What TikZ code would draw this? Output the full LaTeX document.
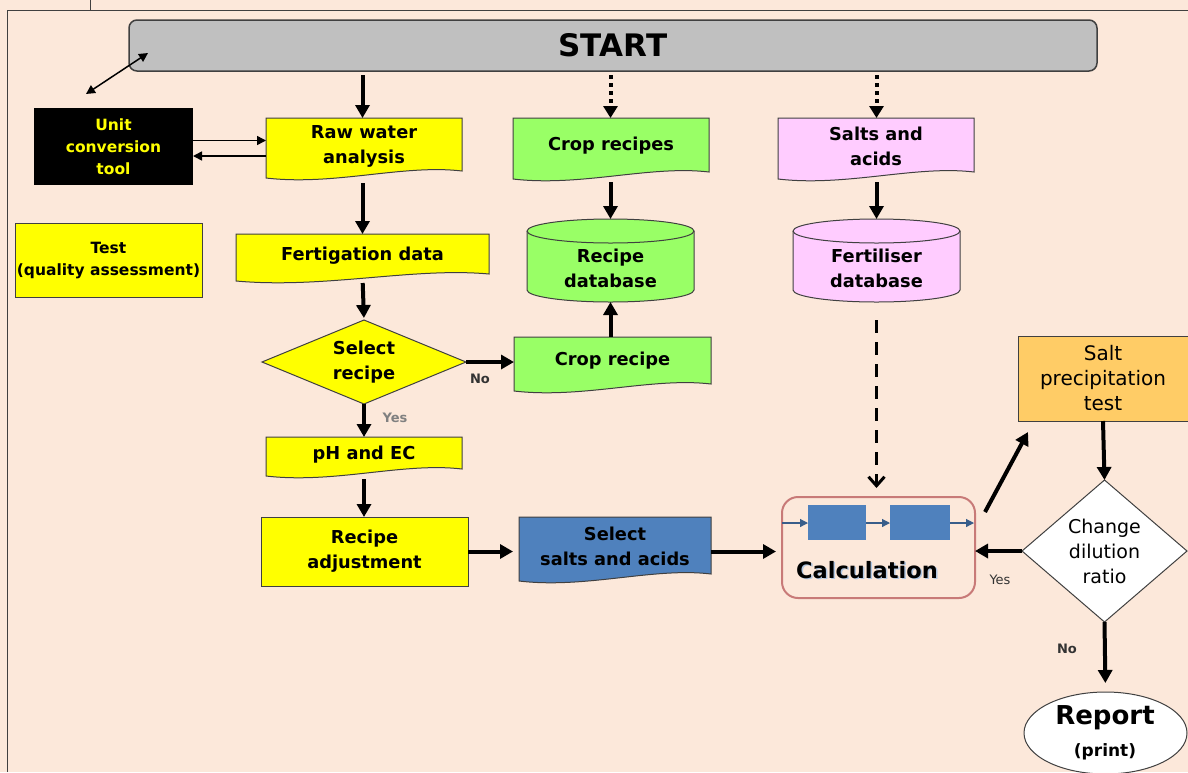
\documentclass[tikz,border=0pt]{standalone}
\usepackage{fontspec}
\setmainfont{DejaVu Sans}
\usetikzlibrary{arrows.meta,calc}
\definecolor{bgc}{HTML}{FCE8DA}
\definecolor{yel}{HTML}{FFFF00}
\definecolor{grn}{HTML}{99FF66}
\definecolor{pnk}{HTML}{FFCCFF}
\definecolor{blu}{HTML}{4F81BD}
\definecolor{org}{HTML}{FFCC66}
\definecolor{gry}{HTML}{C0C0C0}
\definecolor{calcb}{HTML}{C87A78}
\definecolor{smallb}{HTML}{385D8A}
\definecolor{edge}{HTML}{404040}

\newcommand{\docshape}[5]{%
  \pgfmathsetmacro\dw{#3-#1}
  \filldraw[fill=#5, draw=edge, line width=1pt] (#1,#2) -- (#3,#2) -- (#3,{#4-9})
    .. controls ({#3-0.3*\dw},{#4-16}) and ({#1+0.35*\dw},{#4+6}) .. (#1,{#4-2}) -- cycle;}

\newcommand{\cylshape}[5]{%
  \pgfmathsetmacro\ccx{(#1+#3)/2}
  \pgfmathsetmacro\crx{(#3-#1)/2}
  \pgfmathsetmacro\cyt{#2+12}
  \pgfmathsetmacro\cyb{#4-12}
  \pgfmathsetmacro\ckx{0.5523*\crx}
  \pgfmathsetmacro\cky{0.5523*12}
  \filldraw[fill=#5, draw=edge, line width=1pt] (#1,\cyt) -- (#1,\cyb)
    .. controls (#1,{\cyb+\cky}) and ({\ccx-\ckx},#4) .. (\ccx,#4)
    .. controls ({\ccx+\ckx},#4) and (#3,{\cyb+\cky}) .. (#3,\cyb)
    -- (#3,\cyt)
    .. controls (#3,{\cyt-\cky}) and ({\ccx+\ckx},#2) .. (\ccx,#2)
    .. controls ({\ccx-\ckx},#2) and (#1,{\cyt-\cky}) .. (#1,\cyt) -- cycle;
  \draw[draw=edge, line width=1pt] (#1,\cyt)
    .. controls (#1,{\cyt+\cky}) and ({\ccx-\ckx},{\cyt+12}) .. (\ccx,{\cyt+12})
    .. controls ({\ccx+\ckx},{\cyt+12}) and (#3,{\cyt+\cky}) .. (#3,\cyt);}

\tikzset{
  lbl/.style={font=\fontsize{17.8}{25}\selectfont\bfseries, align=center, inner sep=0pt},
  lblr/.style={font=\fontsize{20}{25}\selectfont, align=center, inner sep=0pt},
  anch/.style={inner sep=0pt, outer sep=0pt, draw=none},
  arr/.style={line width=4pt, -{Triangle[length=13pt,width=14pt]}},
  dotarr/.style={line width=4pt, dash pattern=on 4pt off 4pt, -{Triangle[length=12pt,width=14pt]}},
  dasharr/.style={line width=3pt, dash pattern=on 13pt off 9pt, -{Straight Barb[length=9pt,width=16pt,line width=3pt]}},
  thinarr/.style={line width=1.5pt, -{Triangle[length=9pt,width=9pt]}},
  minarr/.style={line width=1.2pt, draw=smallb, -{Triangle[length=8pt,width=8pt]}},
  note/.style={font=\fontsize{13}{15}\selectfont\bfseries, inner sep=0pt},
}

\begin{document}
\begin{tikzpicture}[x=1pt,y=-1pt]
\fill[bgc] (0,0) rectangle (1188,772);
\useasboundingbox (0,0) rectangle (1188,772);
% frame
\draw[edge, line width=1pt] (7,772) -- (7,10) -- (1188,10);
\draw[edge, line width=1pt] (90,0) -- (90,10);

% START
\filldraw[fill=gry, draw=edge, line width=1.5pt, rounded corners=8pt] (129,20) rectangle (1097,71);
\node[anch, minimum width=968, minimum height=51, font=\fontsize{31}{32}\selectfont\bfseries] (start) at (613,45.5) {START};

% Unit conversion tool
\fill[black] (34,108) rectangle (193,185);
\node[anch, minimum width=159, minimum height=77, text=yel, align=center, font=\fontsize{15.5}{22}\selectfont\bfseries] (unit) at (113.5,146.5) {Unit\\conversion\\tool};

% double arrow
\coordinate (da1) at (86,94);
\coordinate (da2) at (148,53);
\draw[line width=1.5pt, {Triangle[length=9pt,width=9pt]}-{Triangle[length=9pt,width=9pt]}] (da1) -- (da2);

% Raw water analysis
\docshape{266}{118}{462}{180}{yel}
\node[anch, lbl, minimum width=196, minimum height=56] (raw) at (364,146) {Raw water\\analysis};

% Test
\filldraw[fill=yel, draw=edge, line width=1pt] (15,223) rectangle (202,297);
\node[anch, minimum width=187, minimum height=74, align=center, font=\fontsize{15.5}{22}\selectfont\bfseries] (test) at (108.5,261) {Test\\(quality assessment)};

% Fertigation data
\docshape{236}{234}{489}{283}{yel}
\node[anch, lbl, minimum width=253, minimum height=43] (fert) at (362.5,255.5) {Fertigation data};

% Select recipe diamond
\filldraw[fill=yel, draw=edge, line width=1pt] (262,362) -- (364,320) -- (466,362) -- (364,404) -- cycle;
\node[anch, lbl, minimum width=204, minimum height=84] (sel) at (364,362) {Select\\recipe};

% Crop recipe
\docshape{514}{337}{711}{393}{grn}
\node[anch, lbl, minimum width=197, minimum height=48] (crop) at (612.5,361) {Crop recipe};

% Crop recipes
\docshape{513}{118}{709}{181}{grn}
\node[anch, lbl, minimum width=196, minimum height=56] (crops) at (611,146) {Crop recipes};

% Recipe database
\cylshape{527}{219}{694}{302}{grn}
\node[anch, minimum width=167, minimum height=83] (rdb) at (610.5,260.5) {};
\node[lbl] (rdbt) at (610.5,268) {Recipe\\database};

% Salts and acids
\docshape{778}{118}{974}{181}{pnk}
\node[anch, lbl, minimum width=196, minimum height=56] (salts) at (876,146) {Salts and\\acids};

% Fertiliser database
\cylshape{793}{219}{960}{302}{pnk}
\node[anch, minimum width=167, minimum height=83] (fdb) at (876.5,260.5) {};
\node[lbl] (fdbt) at (876.5,268) {Fertiliser\\database};

% pH and EC
\docshape{266}{437}{462}{478}{yel}
\node[anch, lbl, minimum width=196, minimum height=36] (ph) at (364,455) {pH and EC};

% Recipe adjustment
\filldraw[fill=yel, draw=edge, line width=1pt] (261,517) rectangle (468,586);
\node[anch, lbl, minimum width=207, minimum height=69] (adj) at (364.5,551.5) {Recipe\\adjustment};

% Select salts and acids
\docshape{519}{517}{711}{583}{blu}
\node[anch, lbl, minimum width=192, minimum height=58] (ssa) at (615,546) {Select\\salts and acids};

% Calculation
\draw[calcb, line width=2pt, rounded corners=16pt] (782,497) rectangle (975,598);
\node[anch, minimum width=193, minimum height=101] (calc) at (878.5,547.5) {};
\fill[blu] (808,505) rectangle (866,540);
\fill[blu] (890,505) rectangle (950,540);
\draw[minarr] (782,523) -- (808,523);
\draw[minarr] (866,523) -- (890,523);
\draw[minarr] (950,523) -- (974,523);
\node[inner sep=0pt, text=blu!45, font=\fontsize{22.5}{24}\selectfont\bfseries] (calcsh) at (868.5,571.5) {Calculation};
\node[inner sep=0pt, font=\fontsize{22.5}{24}\selectfont\bfseries] (calct) at (867,570) {Calculation};

% Salt precipitation test
\filldraw[fill=org, draw=edge, line width=1pt] (1018,336) rectangle (1192,421);
\node[anch, lblr, minimum width=170, minimum height=85] (spt) at (1103,378.5) {Salt\\precipitation\\test};

% Change dilution ratio diamond
\filldraw[fill=white, draw=edge, line width=1pt] (1022,551) -- (1104.5,480) -- (1187,551) -- (1104.5,622) -- cycle;
\node[anch, lblr, font=\fontsize{19}{25}\selectfont, minimum width=165, minimum height=142] (cdr) at (1104.5,551) {Change\\dilution\\ratio};

% Report ellipse
\filldraw[fill=white, draw=edge, line width=1pt] (1105.5,733) ellipse [x radius=81.5, y radius=41];
\node[anch, minimum width=163, minimum height=82] (rep) at (1105.5,733) {};
\node[inner sep=0pt, font=\fontsize{26}{28}\selectfont\bfseries] (rept) at (1105,718) {Report};
\node[inner sep=0pt, font=\fontsize{17}{18}\selectfont\bfseries] (repp) at (1105,752) {(print)};

% ---- connectors ----
\draw[arr, shorten <=4pt] (start.south -| fert.north) -- (fert.north |- raw.north);
\draw[dotarr, shorten <=4pt] (start.south -| rdb.north) -- (rdb.north |- crops.north);
\draw[dotarr, shorten <=4pt] (start.south -| fdb.north) -- (fdb.north |- salts.north);
\draw[thinarr] ([yshift=6pt]unit.east) -- ([yshift=6pt]unit.east -| raw.west);
\draw[thinarr] ([yshift=-9.5pt]unit.east -| raw.west) -- ([yshift=-9.5pt]unit.east);
\draw[arr, shorten <=9pt] (raw.south -| fert.north) -- (fert.north);
\draw[arr, shorten <=6pt, shorten >=2pt] (fert.south) -- (sel.north);
\draw[arr, shorten <=8pt] (crops.south -| rdb.north) -- (rdb.north);
\draw[arr, shorten <=8pt] (salts.south -| fdb.north) -- (fdb.north);
\draw[arr] (sel.east) -- (crop.west |- sel.east);
\draw[arr] (crop.north -| rdb.south) -- (rdb.south);
\draw[arr] (sel.south) -- (sel.south |- ph.north);
\draw[arr, shorten <=6pt] (ph.south -| sel.south) -- (sel.south |- adj.north);
\draw[arr, shorten >=6pt] (adj.east) -- (adj.east -| ssa.west);
\draw[arr, shorten >=6pt] (adj.east -| ssa.east) -- (adj.east -| calc.west);
\draw[dasharr, shorten <=18pt, shorten >=9pt] (fdb.south) -- (fdb.south |- calc.north);
\draw[arr] ($(calc.north east)+(10,15)$) -- ($(spt.south west)+(10,11)$);
\draw[arr] (spt.south) -- (cdr.north);
\draw[arr] (cdr.west) -- (calc.east |- cdr.west);
\draw[arr, shorten >=9pt] (cdr.south) -- (rep.north);

% labels
\node[note, text=black!80] (no1) at (480,379) {No};
\node[note, text=black!50] (yes1) at (395,418) {Yes};
\node[note, text=black!80, font=\fontsize{13}{15}\selectfont] (yes2) at (1000,580) {Yes};
\node[note, text=black!80] (no2) at (1067,649) {No};
\end{tikzpicture}
\end{document}
